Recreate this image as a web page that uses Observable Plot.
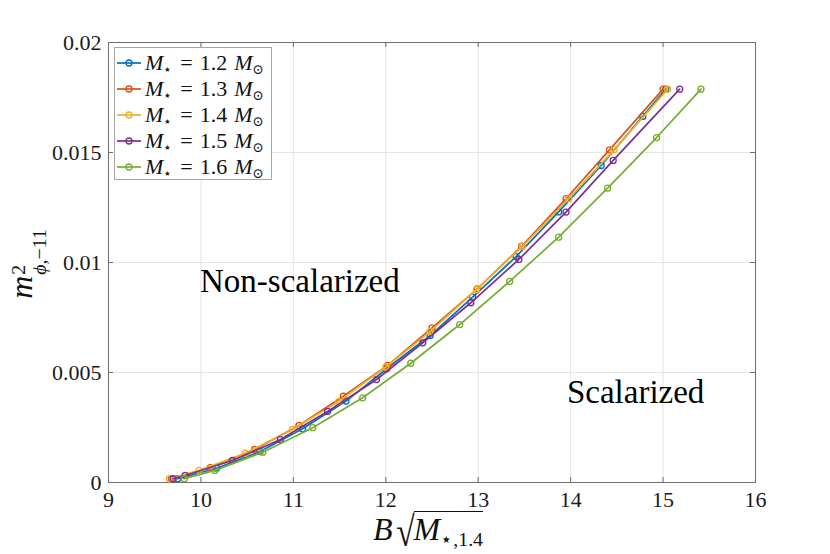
<!DOCTYPE html>
<html>
<head>
<meta charset="utf-8">
<script src="https://cdn.jsdelivr.net/npm/d3@7"></script>
<script src="https://cdn.jsdelivr.net/npm/@observablehq/plot@0.6"></script>
<style>
  body { margin: 0; background: #fff; }
  #wrap { position: relative; width: 830px; height: 554px; font-family: "Liberation Serif", "DejaVu Serif", serif; color: #111; }
  #wrap svg { display: block; }
  .legend { position: absolute; left: 114px; top: 47px; width: 156px; height: 131px; border: 1px solid #a6a6a6; background: #fff; box-sizing: content-box; }
  .legend .row { position: absolute; left: 0; height: 26px; display: flex; align-items: center; white-space: nowrap; font-size: 22px; }
  .legend .row svg { width: 28px; height: 26px; flex: none; }
  .legend .txt { margin-left: 2px; }
  .legend .eq { margin: 0 7px 0 8px; }
  .legend .m2 { margin-left: 7px; }
  .legend sub, .xlab sub { font-size: 0.62em; vertical-align: -0.28em; line-height: 0; }
  .xlab { position: absolute; left: 428px; top: 511px; transform: translateX(-50%); font-size: 32px; white-space: nowrap; line-height: 1; }
  .xlab .rad { font-size: 42px; font-style: normal; display: inline-block; transform: scaleX(0.8); margin-left: 1px; margin-right: -3px; vertical-align: -6px; }
  .xlab .ov { border-top: 1.6px solid #111; padding-top: 1px; display: inline-block; line-height: 1.05; }
  .ylab { position: absolute; left: 27px; top: 264px; transform: translate(-50%, -50%) rotate(-90deg); font-size: 32px; white-space: nowrap; line-height: 1; }
  .ylab .stack { display: inline-flex; flex-direction: column; vertical-align: 0.36em; font-size: 0.62em; line-height: 1.05; margin-left: 1px; }
</style>
</head>
<body>
<div id="wrap"></div>
<script>
// ---- data ----
const xTicks = [9, 10, 11, 12, 13, 14, 15, 16];
const yTicks = [0, 0.005, 0.01, 0.015, 0.02];
const masses = ["1.2", "1.3", "1.4", "1.5", "1.6"];
const colors = ["#0072BD", "#D95319", "#EDB120", "#7E2F8E", "#77AC30"];

const x12 = [9.75, 10.17, 10.64, 11.10, 11.57, 12.01, 12.48, 12.94, 13.41, 13.87, 14.33, 14.78, 15.03];
const y12 = [0.00017, 0.00065, 0.00141, 0.00244, 0.0037, 0.00517, 0.00668, 0.00843, 0.01027, 0.0123, 0.01441, 0.01664, 0.01788];

const x13 = [9.68, 10.10, 10.58, 11.06, 11.54, 12.02, 12.50, 12.99, 13.47, 13.95, 14.42, 15.00];
const y13 = [0.00017, 0.00068, 0.0015, 0.00259, 0.00392, 0.00532, 0.00703, 0.0088, 0.01074, 0.0129, 0.01512, 0.01788];

const x14 = [9.66, 9.98, 10.48, 10.99, 11.49, 12.00, 12.48, 12.98, 13.48, 13.98, 14.47, 15.05];
const y14 = [0.00017, 0.00055, 0.00133, 0.00241, 0.00368, 0.00525, 0.00686, 0.00877, 0.01074, 0.0129, 0.01512, 0.01788];

const x15 = [9.70, 9.83, 10.34, 10.86, 11.37, 11.90, 12.40, 12.92, 13.44, 13.95, 14.46, 15.18];
const y15 = [0.00017, 0.00032, 0.0010, 0.00195, 0.00323, 0.00468, 0.00635, 0.00817, 0.01014, 0.01229, 0.01464, 0.01788];

const x16 = [9.82, 10.15, 10.67, 11.21, 11.75, 12.27, 12.80, 13.34, 13.87, 14.40, 14.93, 15.41];
const y16 = [0.00017, 0.00055, 0.00138, 0.00249, 0.00385, 0.00542, 0.00718, 0.00914, 0.01115, 0.01338, 0.01568, 0.01788];

const annotations = [
  {label: "Non-scalarized", x: 9.99, y: 0.00912},
  {label: "Scalarized", x: 13.96, y: 0.00408}
];

// ---- build ----
const xs = [x12, x13, x14, x15, x16];
const ys = [y12, y13, y14, y15, y16];
const series = masses.map((m, i) => xs[i].map((x, j) => ({mass: m, x, y: ys[i][j]})));

const frameW = 830 - 108 - 75, frameH = 554 - 42 - 72, tick = 5;

const plot = Plot.plot({
  width: 830,
  height: 554,
  marginLeft: 108,
  marginRight: 75,
  marginTop: 42,
  marginBottom: 72,
  x: {domain: [9, 16]},
  y: {domain: [0, 0.02]},
  color: {domain: masses, range: colors},
  style: {fontFamily: '"Liberation Serif", "DejaVu Serif", serif', fontSize: "22px", background: "#fff", color: "#1a1a1a"},
  marks: [
    Plot.gridX(xTicks, {stroke: "#e5e5e5", strokeOpacity: 1, strokeWidth: 1}),
    Plot.gridY(yTicks, {stroke: "#e5e5e5", strokeOpacity: 1, strokeWidth: 1}),
    Plot.tickX(xTicks, {x: d => d, insetTop: frameH - tick, stroke: "#6e6e6e"}),
    Plot.tickX(xTicks, {x: d => d, insetBottom: frameH - tick, stroke: "#6e6e6e"}),
    Plot.tickY(yTicks, {y: d => d, insetRight: frameW - tick, stroke: "#6e6e6e"}),
    Plot.tickY(yTicks, {y: d => d, insetLeft: frameW - tick, stroke: "#6e6e6e"}),
    Plot.frame({stroke: "#6e6e6e", strokeWidth: 1}),
    Plot.axisX(xTicks, {tickSize: 0, tickPadding: 9, label: null, tickFormat: d => String(d), fontSize: 22}),
    Plot.axisY(yTicks, {tickSize: 0, tickPadding: 7, label: null, tickFormat: d => String(d), fontSize: 22}),
    ...series.flatMap(s => [
      Plot.line(s, {x: "x", y: "y", stroke: "mass", strokeWidth: 1.7}),
      Plot.dot(s, {x: "x", y: "y", stroke: "mass", r: 3, strokeWidth: 1.3, fill: "none"})
    ]),
    Plot.text(annotations, {x: "x", y: "y", text: "label", textAnchor: "start", lineAnchor: "middle", fontSize: 33, fill: "#000"})
  ]
});

const wrap = document.getElementById("wrap");
wrap.appendChild(plot);

// legend
const legend = document.createElement("div");
legend.className = "legend";
masses.forEach((m, i) => {
  const row = document.createElement("div");
  row.className = "row";
  row.style.top = (2 + i * 26) + "px";
  row.innerHTML =
    `<svg viewBox="0 0 28 26"><line x1="2" y1="13" x2="26" y2="13" stroke="${colors[i]}" stroke-width="1.7"/>` +
    `<circle cx="14" cy="13" r="3" fill="none" stroke="${colors[i]}" stroke-width="1.3"/></svg>` +
    `<span class="txt"><i>M</i><sub>⋆</sub><span class="eq">=</span>${m}<span class="m2"><i>M</i><sub>⊙</sub></span></span>`;
  legend.appendChild(row);
});
wrap.appendChild(legend);

// x label
const xlab = document.createElement("div");
xlab.className = "xlab";
xlab.innerHTML = `<i>B</i><span class="rad">√</span><span class="ov"><i>M</i><sub>⋆,1.4</sub></span>`;
wrap.appendChild(xlab);

// y label
const ylab = document.createElement("div");
ylab.className = "ylab";
ylab.innerHTML = `<i>m</i><span class="stack"><span>2</span><span><i>ϕ</i>,−11</span></span>`;
wrap.appendChild(ylab);
</script>
</body>
</html>
